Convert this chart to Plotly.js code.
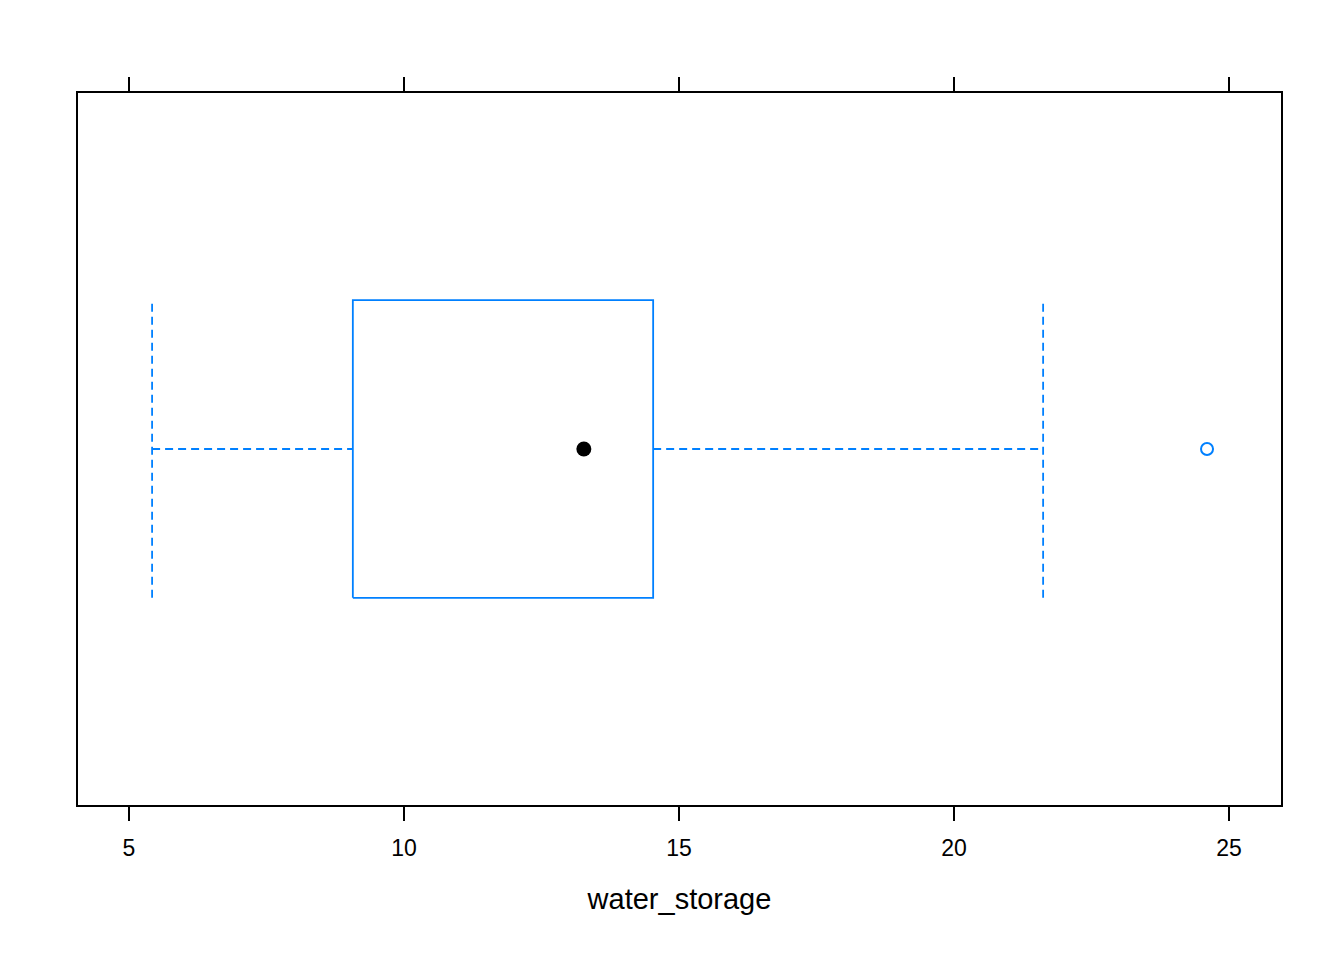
<!DOCTYPE html>
<html>
<head>
<meta charset="utf-8">
<script src="https://cdn.plot.ly/plotly-3.0.1.min.js"></script>
<style>body{margin:0;background:#fff}</style>
</head>
<body>
<div id="graph" style="width:1344px;height:960px"></div>
<script>
// five-number summary
let lowWhisker = 5.42;
let q1 = 9.07;
let median = 13.27;
let q3 = 14.53;
let highWhisker = 21.62;
let outliers = [24.6];

let boxLo = 0.291, boxHi = 0.709, mid = 0.5;
let blue = '#0080ff';

var dashed = {color: blue, width: 1.8, dash: '8px,5px'};

var data = [
	{x: [q1, q3, q3, q1, q1], y: [boxLo, boxLo, boxHi, boxHi, boxLo], mode: 'lines', line: {color: blue, width: 1.8}},
	{x: [lowWhisker, q1, null, q3, highWhisker], y: [mid, mid, null, mid, mid], mode: 'lines', line: dashed},
	{x: [lowWhisker, lowWhisker, null, highWhisker, highWhisker], y: [boxLo, boxHi, null, boxLo, boxHi], mode: 'lines', line: dashed},
	{x: [median], y: [mid], mode: 'markers', marker: {color: 'black', size: 15}},
	{x: outliers, y: outliers.map(() => mid), mode: 'markers', marker: {color: 'white', size: 12, line: {color: blue, width: 2}}}
];

var layout = {
	showlegend: false,
	margin: {l: 78, r: 63, t: 93, b: 155},
	paper_bgcolor: 'white',
	plot_bgcolor: 'white',
	font: {family: 'Arial, Liberation Sans, sans-serif', color: 'black'},
	xaxis: {
		range: [4.073, 25.945],
		tickvals: [5, 10, 15, 20, 25],
		ticks: 'outside', ticklen: 14, tickwidth: 1.5, tickcolor: 'black',
		ticklabelstandoff: 8,
		showline: true, linecolor: 'black', linewidth: 1.5, mirror: 'ticks',
		showgrid: false, zeroline: false,
		tickfont: {size: 23},
		title: {text: 'water_storage', font: {size: 29}, standoff: 28}
	},
	yaxis: {
		range: [0, 1],
		showticklabels: false, ticks: '',
		showline: true, linecolor: 'black', linewidth: 1.5, mirror: true,
		showgrid: false, zeroline: false
	}
};

Plotly.newPlot('graph', data, layout, {displayModeBar: false});
</script>
</body>
</html>
